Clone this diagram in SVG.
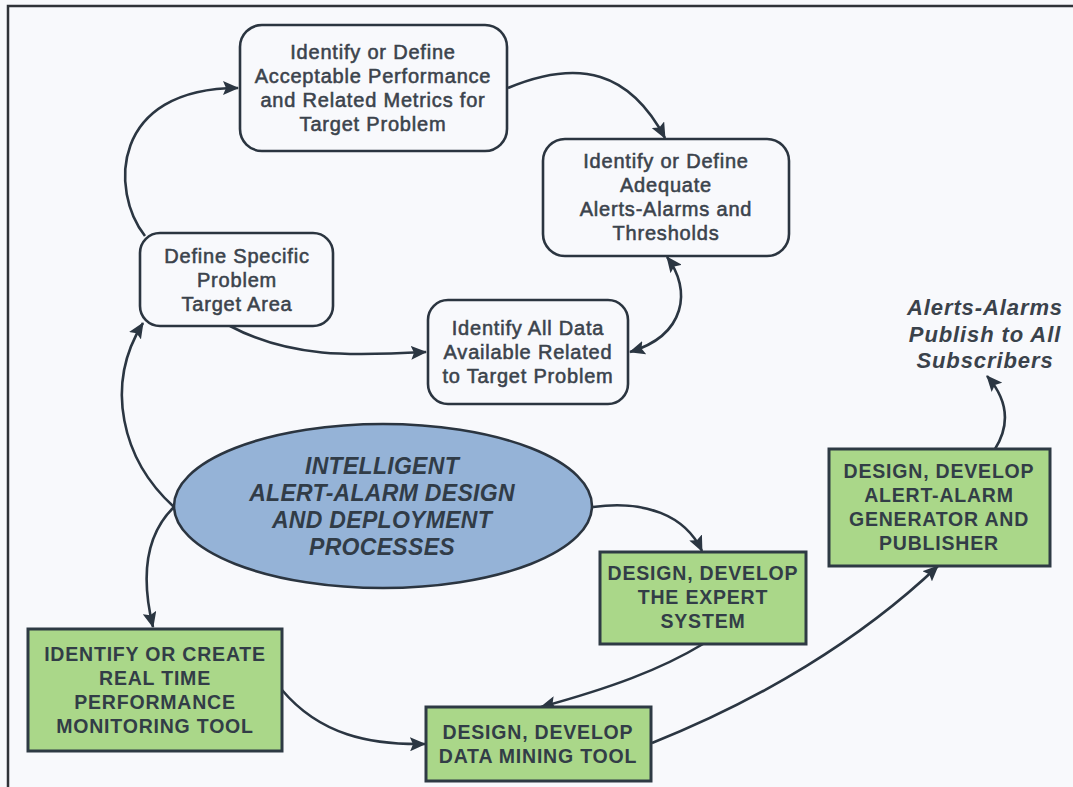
<svg xmlns="http://www.w3.org/2000/svg" width="1073" height="787" viewBox="0 0 1073 787">
  <style>
    .frame { fill: none; stroke: #2f3338; stroke-width: 2.5; }
    .soft { fill: #f8f9fc; stroke: #2b3540; stroke-width: 2.6; }
    .task { fill: #aad789; stroke: #2e3a44; stroke-width: 3; }
    .hub { fill: #95b3d7; stroke: #2b3540; stroke-width: 2.6; }
    .link { fill: none; stroke: #2b3642; stroke-width: 2.6; }
    .t1 { font-family: "Liberation Sans", Arial, sans-serif; font-size: 20px; fill: #3b434c; stroke: #3b434c; stroke-width: 0.55; letter-spacing: 0.8px; text-anchor: middle; }
    .t2 { font-family: "Liberation Sans", Arial, sans-serif; font-size: 19.5px; font-weight: bold; fill: #323d47; letter-spacing: 0.8px; text-anchor: middle; }
    .t3 { font-family: "Liberation Sans", Arial, sans-serif; font-size: 23px; font-weight: bold; font-style: italic; fill: #313c47; letter-spacing: 0.3px; text-anchor: middle; }
    .t4 { font-family: "Liberation Sans", Arial, sans-serif; font-size: 22px; font-weight: bold; font-style: italic; fill: #3a424b; letter-spacing: 0.9px; text-anchor: middle; }
  </style>
  <defs>
    <marker id="arrow" viewBox="0 0 16 14" refX="15" refY="7" markerWidth="16" markerHeight="14" markerUnits="userSpaceOnUse" orient="auto-start-reverse">
      <path d="M0,0 L16,7 L0,14 L3,7 z" fill="#2b3642"/>
    </marker>
  </defs>

  <!-- page background and frame -->
  <rect x="0" y="0" width="1073" height="787" fill="#f8f9fc"/>
  <path class="frame" d="M8,787 L8,6 L1073,6"/>

  <!-- connectors -->
  <g id="connectors">
    <path class="link" d="M145,236 C110,192 110,88 238,88" marker-end="url(#arrow)"/>
    <path class="link" d="M508,88 C580,58 630,72 665,138" marker-end="url(#arrow)"/>
    <path class="link" d="M667,257 C692,290 686,335 630,352" marker-start="url(#arrow)" marker-end="url(#arrow)"/>
    <path class="link" d="M230,326 C290,358 350,356 426,352" marker-end="url(#arrow)"/>
    <path class="link" d="M174,507 C122,460 104,385 143,323" marker-end="url(#arrow)"/>
    <path class="link" d="M174,507 C140,540 144,590 153,627" marker-end="url(#arrow)"/>
    <path class="link" d="M593,507 C645,500 685,515 702,551" marker-end="url(#arrow)"/>
    <path class="link" d="M703,644 C660,670 610,688 541,707" marker-end="url(#arrow)"/>
    <path class="link" d="M282,690 C320,735 370,745 425,744" marker-end="url(#arrow)"/>
    <path class="link" d="M652,743 C760,700 860,640 938,566" marker-end="url(#arrow)"/>
    <path class="link" d="M995,449 C1010,425 1008,400 987,376" marker-end="url(#arrow)"/>
  </g>

  <!-- planning steps -->
  <g id="acceptable-performance">
    <rect class="soft" x="240" y="25" width="267" height="126" rx="22"/>
    <text class="t1" x="373" y="59">Identify or Define</text>
    <text class="t1" x="373" y="83">Acceptable Performance</text>
    <text class="t1" x="373" y="107">and Related Metrics for</text>
    <text class="t1" x="373" y="131">Target Problem</text>
  </g>

  <g id="alerts-thresholds">
    <rect class="soft" x="543" y="139" width="246" height="117" rx="22"/>
    <text class="t1" x="666" y="168">Identify or Define</text>
    <text class="t1" x="666" y="192">Adequate</text>
    <text class="t1" x="666" y="216">Alerts-Alarms and</text>
    <text class="t1" x="666" y="240">Thresholds</text>
  </g>

  <g id="problem-area">
    <rect class="soft" x="140" y="233" width="193" height="93" rx="20"/>
    <text class="t1" x="237" y="263">Define Specific</text>
    <text class="t1" x="237" y="287">Problem</text>
    <text class="t1" x="237" y="311">Target Area</text>
  </g>

  <g id="available-data">
    <rect class="soft" x="428" y="300" width="200" height="104" rx="20"/>
    <text class="t1" x="528" y="335">Identify All Data</text>
    <text class="t1" x="528" y="359">Available Related</text>
    <text class="t1" x="528" y="383">to Target Problem</text>
  </g>

  <!-- central process -->
  <g id="process-hub">
    <ellipse class="hub" cx="383" cy="506" rx="209" ry="82"/>
    <text class="t3" x="382" y="474">INTELLIGENT</text>
    <text class="t3" x="382" y="501">ALERT-ALARM DESIGN</text>
    <text class="t3" x="382" y="528">AND DEPLOYMENT</text>
    <text class="t3" x="382" y="555">PROCESSES</text>
  </g>

  <!-- build tasks -->
  <g id="monitoring-tool">
    <rect class="task" x="28" y="629" width="254" height="122"/>
    <text class="t2" x="155" y="661">IDENTIFY OR CREATE</text>
    <text class="t2" x="155" y="685">REAL TIME</text>
    <text class="t2" x="155" y="709">PERFORMANCE</text>
    <text class="t2" x="155" y="733">MONITORING TOOL</text>
  </g>

  <g id="expert-system">
    <rect class="task" x="600" y="552" width="206" height="92"/>
    <text class="t2" x="703" y="580">DESIGN, DEVELOP</text>
    <text class="t2" x="703" y="604">THE EXPERT</text>
    <text class="t2" x="703" y="628">SYSTEM</text>
  </g>

  <g id="data-mining">
    <rect class="task" x="426" y="707" width="225" height="74"/>
    <text class="t2" x="538" y="739">DESIGN, DEVELOP</text>
    <text class="t2" x="538" y="763">DATA MINING TOOL</text>
  </g>

  <g id="alarm-publisher">
    <rect class="task" x="829" y="449" width="221" height="117"/>
    <text class="t2" x="939" y="478">DESIGN, DEVELOP</text>
    <text class="t2" x="939" y="502">ALERT-ALARM</text>
    <text class="t2" x="939" y="526">GENERATOR AND</text>
    <text class="t2" x="939" y="550">PUBLISHER</text>
  </g>

  <!-- output label -->
  <g id="subscribers">
    <text class="t4" x="985" y="315">Alerts-Alarms</text>
    <text class="t4" x="985" y="342">Publish to All</text>
    <text class="t4" x="985" y="368">Subscribers</text>
  </g>
</svg>
